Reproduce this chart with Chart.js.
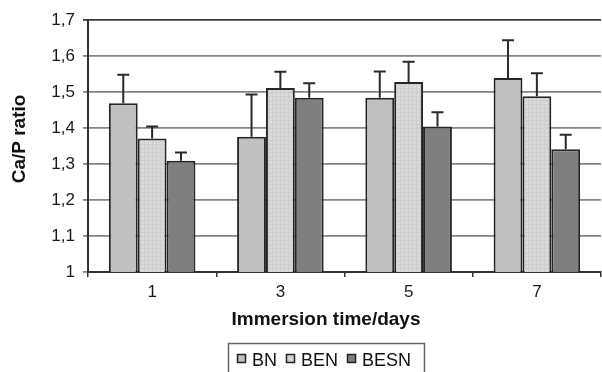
<!DOCTYPE html>
<html>
<head>
<meta charset="utf-8">
<script src="https://cdn.jsdelivr.net/npm/chart.js@4/dist/chart.umd.min.js"></script>
<style>
html,body{margin:0;padding:0;background:#fff;}
#wrap{width:602px;height:372px;}
</style>
</head>
<body>
<div id="wrap"><canvas id="c" width="602" height="372"></canvas></div>
<script>
const categories = ['1', '3', '5', '7'];
const seriesNames = ['BN', 'BEN', 'BESN'];
const bnValues   = [1.469, 1.376, 1.484, 1.539];
const benValues  = [1.371, 1.511, 1.528, 1.488];
const besnValues = [1.309, 1.484, 1.404, 1.341];
const bnErrors   = [0.079, 0.117, 0.073, 0.105];
const benErrors  = [0.033, 0.045, 0.056, 0.064];
const besnErrors = [0.023, 0.040, 0.040, 0.040];
const yTickLabels = ['1', '1,1', '1,2', '1,3', '1,4', '1,5', '1,6', '1,7'];
const xTitle = 'Immersion time/days';
const yTitle = 'Ca/P ratio';

const FONT = '"Liberation Sans", Arial, sans-serif';

function makePattern() {
  const p = document.createElement('canvas');
  p.width = 4; p.height = 4;
  const g = p.getContext('2d');
  g.fillStyle = '#d9d9d9';
  g.fillRect(0, 0, 4, 4);
  g.fillStyle = '#cecece';
  g.fillRect(0, 0, 4, 1);
  g.fillRect(0, 0, 1, 4);
  return document.getElementById('c').getContext('2d').createPattern(p, 'repeat');
}

const errorsByDataset = [bnErrors, benErrors, besnErrors];

const errorBarPlugin = {
  id: 'errorBars',
  afterDatasetsDraw(chart) {
    const ctx = chart.ctx;
    const y = chart.scales.y;
    ctx.save();
    ctx.strokeStyle = '#2a2a2a';
    ctx.lineWidth = 2;
    chart.data.datasets.forEach((ds, i) => {
      const meta = chart.getDatasetMeta(i);
      meta.data.forEach((el, j) => {
        const top = y.getPixelForValue(ds.data[j] + errorsByDataset[i][j]);
        ctx.beginPath();
        ctx.moveTo(el.x, el.y);
        ctx.lineTo(el.x, top);
        ctx.moveTo(el.x - 6, top);
        ctx.lineTo(el.x + 6, top);
        ctx.stroke();
      });
    });
    ctx.restore();
  }
};

const decorPlugin = {
  id: 'decor',
  afterDraw(chart) {
    const ctx = chart.ctx;
    ctx.save();
    ctx.fillStyle = '#111';
    ctx.font = 'bold 19px ' + FONT;
    ctx.textAlign = 'center';
    ctx.textBaseline = 'middle';
    ctx.translate(20, 139);
    ctx.rotate(-Math.PI / 2);
    ctx.fillText(yTitle, 0, 0);
    ctx.restore();

    ctx.save();
    ctx.fillStyle = '#111';
    ctx.font = 'bold 19px ' + FONT;
    ctx.textAlign = 'center';
    ctx.textBaseline = 'middle';
    ctx.fillText(xTitle, 326, 320);
    ctx.restore();

    ctx.save();
    ctx.strokeStyle = '#666';
    ctx.lineWidth = 1.5;
    ctx.strokeRect(228.5, 343.5, 196, 40);
    ctx.font = '18px ' + FONT;
    ctx.textAlign = 'left';
    ctx.textBaseline = 'alphabetic';
    let x = 237;
    chart.data.datasets.forEach((ds, i) => {
      ctx.fillStyle = ds.backgroundColor;
      ctx.fillRect(x, 354, 9, 9);
      ctx.strokeStyle = '#222';
      ctx.lineWidth = 1.5;
      ctx.strokeRect(x + 0.5, 354.5, 8, 8);
      ctx.fillStyle = '#111';
      ctx.fillText(ds.label, x + 15, 365.5);
      x += 15 + ctx.measureText(ds.label).width + 9;
    });
    ctx.restore();
  }
};

const pattern = makePattern();

new Chart(document.getElementById('c'), {
  type: 'bar',
  data: {
    labels: categories,
    datasets: [
      { label: seriesNames[0], data: bnValues, backgroundColor: '#c0c0c0' },
      { label: seriesNames[1], data: benValues, backgroundColor: pattern },
      { label: seriesNames[2], data: besnValues, backgroundColor: '#7f7f7f' }
    ].map(d => Object.assign(d, { borderColor: '#262626', borderWidth: 2, borderSkipped: false, barPercentage: 1, categoryPercentage: 0.675 }))
  },
  options: {
    responsive: false,
    animation: false,
    layout: { padding: { top: 20, right: 1, left: 0, bottom: 0 } },
    plugins: { legend: { display: false }, tooltip: { enabled: false } },
    scales: {
      x: {
        afterFit: s => { s.height = 100; },
        grid: { display: true, drawOnChartArea: false, drawTicks: true, tickLength: 5, color: '#333', lineWidth: 1.5, offset: true },
        border: { color: '#333', width: 2 },
        ticks: { color: '#1a1a1a', font: { family: FONT, size: 17 }, padding: 5 }
      },
      y: {
        min: 1, max: 1.7,
        afterFit: s => { s.width = 88; },
        ticks: {
          stepSize: 0.1,
          color: '#1a1a1a',
          font: { family: FONT, size: 17 },
          padding: 8,
          callback: (v, i) => yTickLabels[i]
        },
        grid: {
          tickLength: 5,
          lineWidth: 1.8,
          color: c => (c.index === yTickLabels.length - 1 ? '#3a3a3a' : '#858585')
        },
        border: { color: '#333', width: 2 }
      }
    }
  },
  plugins: [errorBarPlugin, decorPlugin]
});
</script>
</body>
</html>
